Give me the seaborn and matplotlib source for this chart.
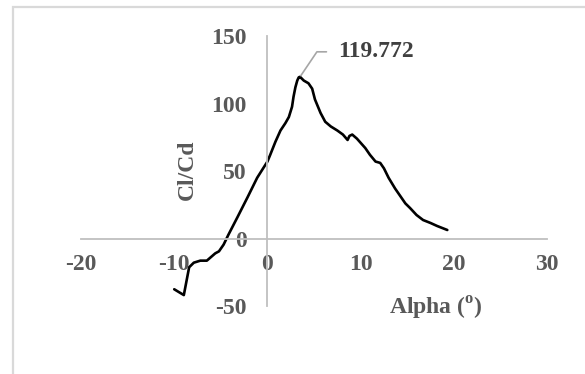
import matplotlib
matplotlib.use("Agg")
import matplotlib.pyplot as plt
import seaborn as sns
import pandas as pd
from matplotlib.patches import Rectangle

# Lift-to-drag ratio against angle of attack
alpha = [-10.0, -8.97, -8.4, -7.9, -7.2, -6.5, -5.6, -5.2, -4.7, -4.2, -3.2,
         -2.1, -1.1, 0.0, 0.3, 0.86, 1.4, 1.93, 2.3, 2.64, 2.8, 3.0, 3.2, 3.36,
         3.5, 3.9, 4.4, 4.8, 5.1, 5.7, 6.2, 6.8, 7.5, 8.1, 8.6, 8.8, 9.1, 9.6,
         10.5, 11.0, 11.6, 12.1, 12.5, 13.0, 13.7, 14.3, 14.8, 15.3, 16.0,
         16.7, 17.5, 18.2, 19.3]
cl_cd = [-37.6, -41.9, -21.3, -17.9, -16.4, -16.4, -11.0, -9.5, -4.5, 2.6,
         16.0, 31.0, 45.0, 57.0, 62.0, 71.7, 80.0, 85.5, 90.0, 97.6, 105.0,
         112.0, 117.0, 119.4, 119.772, 117.0, 115.0, 111.0, 103.0, 93.0, 86.5,
         83.0, 80.0, 77.0, 73.0, 76.0, 77.0, 74.0, 67.0, 62.0, 57.0, 56.0,
         52.0, 45.0, 37.0, 31.0, 26.0, 22.6, 17.4, 13.7, 11.5, 9.3, 6.3]
x_ticks = [-20, -10, 0, 10, 20, 30]
y_ticks = [-50, 0, 50, 100, 150]
peak_label = "119.772"

df = pd.DataFrame({"Alpha": alpha, "ClCd": cl_cd})

sns.set_style("white")
plt.rcParams["font.family"] = ["Liberation Serif", "DejaVu Serif"]
plt.rcParams["font.weight"] = "bold"
plt.rcParams["axes.unicode_minus"] = False
plt.rcParams["mathtext.fontset"] = "custom"
plt.rcParams["mathtext.rm"] = "Liberation Serif:bold"
plt.rcParams["mathtext.bf"] = "Liberation Serif:bold"

fig = plt.figure(figsize=(5.85, 3.74), dpi=100)
ax = fig.add_axes([0.1385, 0.1818, 0.7966, 0.7219])

sns.lineplot(data=df, x="Alpha", y="ClCd", ax=ax, color="black",
             linewidth=1.9, sort=False, estimator=None)
ax.lines[0].set_solid_joinstyle("round")

ax.set_xlim(-20, 30)
ax.set_ylim(-50, 150)
ax.set_xticks(x_ticks)
ax.set_yticks(y_ticks)

spine_color = "#bfbfbf"
for side in ("top", "right"):
    ax.spines[side].set_visible(False)
ax.spines["left"].set_position(("data", 0))
ax.spines["bottom"].set_position(("data", 0))
for side in ("left", "bottom"):
    ax.spines[side].set_color(spine_color)
    ax.spines[side].set_linewidth(1.3)

tick_color = "#595959"
ax.tick_params(axis="x", direction="in", length=5, width=1.2,
               color=spine_color, pad=11.5, labelsize=17, labelcolor=tick_color)
ax.tick_params(axis="y", direction="in", length=5, width=1.2,
               color=spine_color, pad=15, labelsize=17, labelcolor=tick_color)
for lab in ax.get_xticklabels() + ax.get_yticklabels():
    lab.set_fontweight("bold")

ax.set_xlabel(r"Alpha ($^{\mathrm{o}}$)", fontsize=17, fontweight="bold",
              color=tick_color, ha="center", va="center")
ax.xaxis.set_label_coords(0.7607, -0.0074)
ax.set_ylabel("Cl/Cd", fontsize=17, fontweight="bold", color=tick_color,
              ha="center", va="center")
ax.yaxis.set_label_coords(0.2275, 0.504)

# Label the maximum of the curve
i_max = cl_cd.index(max(cl_cd))
ax.annotate(peak_label, xy=(alpha[i_max], cl_cd[i_max]),
            xytext=(38, 25), textcoords="offset pixels",
            ha="left", va="center", fontsize=17, fontweight="bold",
            color="#404040",
            arrowprops=dict(arrowstyle="-", color="#a6a6a6", lw=1.2,
                            connectionstyle="angle,angleA=0,angleB=56,rad=0",
                            relpos=(0, 0.5), shrinkA=6, shrinkB=1))

# Light frame around the chart area
fig.patches.append(Rectangle((0.0214, -0.5), 2.0, 1.481, transform=fig.transFigure,
                             fill=False, edgecolor="#d9d9d9", linewidth=1.6))

fig.savefig("out.png", dpi=100)
